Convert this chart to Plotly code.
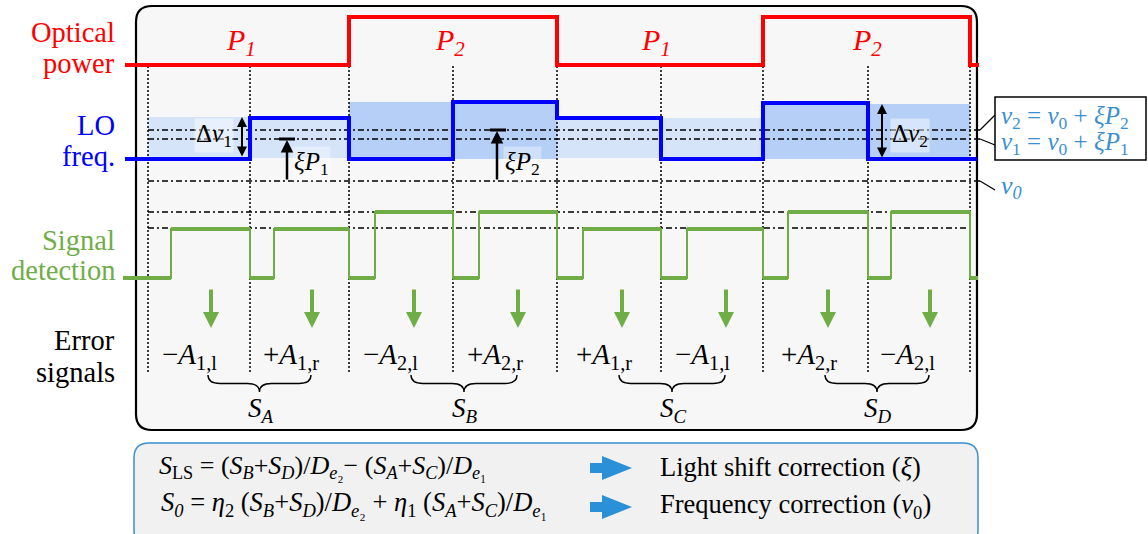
import plotly.graph_objects as go

# --- data (horizontal = time in px, vertical = level in px, top-down) ---
edges = [148, 250, 349, 453, 557, 661, 763, 868, 970]

power_t = [125, 349, 557, 763, 970, 979]
power_lvl = [65, 17, 65, 17, 65]
power_names = ["P<sub>1</sub>", "P<sub>2</sub>", "P<sub>1</sub>", "P<sub>2</sub>"]
power_name_x = [241, 450, 656, 867]

lo_t = [125, 250, 349, 453, 557, 661, 763, 868, 977]
lo_lvl = [159, 118, 159, 102, 118, 159, 103, 159]

band_t0 = [148, 349, 557, 763]
band_t1 = [349, 557, 763, 970]
band_top = [117, 102, 118, 104]
band_bot = [158, 159, 158, 159]
band_kind = ["P1", "P2", "P1", "P2"]

nu_levels = [130, 139, 181]      # nu2, nu1, nu0
sig_levels = [212, 228]

sig_t = [123, 171, 250, 274, 349, 375, 453, 479, 557, 583, 661, 687,
         763, 788, 868, 891, 970, 978]
sig_lvl = [278, 229, 278, 229, 278, 212, 278, 212, 278, 229, 278, 229,
           278, 212, 278, 212, 278]

sample_t = [211, 312, 414, 518, 622, 726, 828, 930]
err_x = [189, 291, 390, 495, 604, 702, 809, 907]
err_labels = ["−<i>A</i><sub>1,l</sub>", "+<i>A</i><sub>1,r</sub>",
              "−<i>A</i><sub>2,l</sub>", "+<i>A</i><sub>2,r</sub>",
              "+<i>A</i><sub>1,r</sub>", "−<i>A</i><sub>1,l</sub>",
              "+<i>A</i><sub>2,r</sub>", "−<i>A</i><sub>2,l</sub>"]
sum_names = ["A", "B", "C", "D"]

RED = "#ff0000"
BLUE = "#0000ff"
GREEN = "#70ad47"
SKY = "#3a8fd0"
SERIF = "Liberation Serif"


def step(ts, lv):
    xs, ys = [], []
    for i, v in enumerate(lv):
        xs += [ts[i], ts[i + 1]]
        ys += [v, v]
    return xs, ys


def rounded(x0, y0, x1, y1, r):
    return (f"M{x0+r},{y0} L{x1-r},{y0} Q{x1},{y0} {x1},{y0+r} "
            f"L{x1},{y1-r} Q{x1},{y1} {x1-r},{y1} L{x0+r},{y1} "
            f"Q{x0},{y1} {x0},{y1-r} L{x0},{y0+r} Q{x0},{y0} {x0+r},{y0} Z")


def brace(x0, x1, y0, h):
    xm = (x0 + x1) / 2
    ym = y0 + h * 0.5
    return (f"M{x0},{y0} Q{x0},{ym} {x0+12},{ym} L{xm-12},{ym} "
            f"Q{xm},{ym} {xm},{y0+h} Q{xm},{ym} {xm+12},{ym} "
            f"L{x1-12},{ym} Q{x1},{ym} {x1},{y0}")


def block_arrow(cx, cy):
    return (f"M{cx-21},{cy-5} L{cx-9},{cy-5} L{cx-9},{cy-12} L{cx+21},{cy} "
            f"L{cx-9},{cy+12} L{cx-9},{cy+5} L{cx-21},{cy+5} Z")


fig = go.Figure()

# shaded LO bands
for a, b, top, bot, kind in zip(band_t0, band_t1, band_top, band_bot, band_kind):
    fig.add_trace(go.Scatter(
        x=[a, b, b, a, a], y=[top, top, bot, bot, top], mode="lines",
        fill="toself", fillcolor="#d5e4f9" if kind == "P1" else "#b5cff6",
        line=dict(width=0), hoverinfo="skip"))

# dash-dot reference levels
hx, hy = [], []
for lv in nu_levels:
    hx += [148, 980, None]
    hy += [lv, lv, None]
for lv in sig_levels:
    hx += [148, 970, None]
    hy += [lv, lv, None]
fig.add_trace(go.Scatter(x=hx, y=hy, mode="lines", hoverinfo="skip",
                         line=dict(color="black", width=1.3, dash="6px,3px,2px,3px")))

# dotted time marks
vx, vy = [], []
for t in edges:
    vx += [t, t, None]
    vy += [66, 373, None]
fig.add_trace(go.Scatter(x=vx, y=vy, mode="lines", hoverinfo="skip",
                         line=dict(color="black", width=1.5, dash="2px,2px")))

# optical power
px_, py_ = step(power_t, power_lvl)
fig.add_trace(go.Scatter(x=px_, y=py_, mode="lines", line=dict(color=RED, width=4)))

# LO frequency
lx, ly = step(lo_t, lo_lvl)
fig.add_trace(go.Scatter(x=lx, y=ly, mode="lines", line=dict(color=BLUE, width=4)))

# signal detection
sx, sy = step(sig_t, sig_lvl)
fig.add_trace(go.Scatter(x=sx, y=sy, mode="lines", line=dict(color=GREEN, width=2)))
gx, gy = [], []
for i, v in enumerate(sig_lvl):
    gx += [sig_t[i], sig_t[i + 1], None]
    gy += [v, v, None]
fig.add_trace(go.Scatter(x=gx, y=gy, mode="lines", line=dict(color=GREEN, width=4)))

shapes = [
    dict(type="path", path=rounded(136, 6, 977, 430, 16), layer="below",
         fillcolor="#f7f7f7", line=dict(color="black", width=2.2)),
    dict(type="path", path=rounded(134, 443, 978, 545, 15), layer="below",
         fillcolor="#f1f1f1", line=dict(color=SKY, width=1.5)),
    dict(type="rect", x0=995, x1=1146, y0=97, y1=160, fillcolor="white",
         line=dict(color="black", width=1.5)),
]
# leaders to level labels
for lv, ty in zip(nu_levels, [115, 145, 190]):
    shapes.append(dict(type="line", x0=980, y0=lv, x1=995, y1=ty,
                       line=dict(color="black", width=1.2)))
# xi P bars
shapes.append(dict(type="line", x0=279, x1=295, y0=nu_levels[1], y1=nu_levels[1],
                   line=dict(color="black", width=3)))
shapes.append(dict(type="line", x0=490, x1=506, y0=nu_levels[0], y1=nu_levels[0],
                   line=dict(color="black", width=3)))
# braces
for i in range(4):
    shapes.append(dict(type="path", path=brace(sample_t[2 * i] - 3, sample_t[2 * i + 1] - 1, 375, 17),
                       line=dict(color="black", width=1.4)))
# block arrows
for cy in [468, 507]:
    shapes.append(dict(type="path", path=block_arrow(611, cy), fillcolor="#2a90d8",
                       line=dict(width=0)))

ann = []


def txt(x, y, text, size=26, color="black", xanchor="center", **kw):
    ann.append(dict(x=x, y=y, text=text, showarrow=False, xanchor=xanchor,
                    yanchor="middle", font=dict(family=SERIF, size=size, color=color), **kw))


# row titles
for label, y, col in [("Optical", 32, RED), ("power", 63, RED),
                      ("LO", 125, BLUE), ("freq.", 156, BLUE),
                      ("Signal", 240, GREEN), ("detection", 270, GREEN),
                      ("Error", 340, "black"), ("signals", 372, "black")]:
    txt(117, y, label, size=28.5, color=col, xanchor="right")

for x, name in zip(power_name_x, power_names):
    txt(x, 42, f"<i>{name}</i>", size=30, color=RED)

# LO annotations
txt(214, 135, "Δ<i>ν</i><sub>1</sub>", size=25, bgcolor="rgba(255,255,255,0.45)")
txt(910, 135, "Δ<i>ν</i><sub>2</sub>", size=25, bgcolor="rgba(255,255,255,0.45)")
txt(311, 163, "<i>ξP</i><sub>1</sub>", size=25, bgcolor="rgba(255,255,255,0.35)")
txt(522, 163, "<i>ξP</i><sub>2</sub>", size=25, bgcolor="rgba(255,255,255,0.35)")

for x, top, bot in [(242, band_top[0], band_bot[0]), (882, band_top[3], band_bot[3])]:
    ann.append(dict(x=x, y=top, ax=x, ay=bot, axref="x", ayref="y", xref="x", yref="y",
                    text="", showarrow=True, arrowhead=2, arrowside="end+start",
                    arrowsize=1, arrowwidth=2, arrowcolor="black"))
for x, top in [(287, nu_levels[1]), (497, nu_levels[0])]:
    ann.append(dict(x=x, y=top + 1, ax=x, ay=nu_levels[2], axref="x", ayref="y",
                    text="", showarrow=True, arrowhead=2, arrowsize=1,
                    arrowwidth=2.5, arrowcolor="black"))

# level labels
txt(999, 117, "<i>ν</i><sub>2</sub> = <i>ν</i><sub>0</sub> + <i>ξP</i><sub>2</sub>",
    size=25, color=SKY, xanchor="left")
txt(999, 143, "<i>ν</i><sub>1</sub> = <i>ν</i><sub>0</sub> + <i>ξP</i><sub>1</sub>",
    size=25, color=SKY, xanchor="left")
txt(999, 187, "<i>ν<sub>0</sub></i>", size=26, color=SKY, xanchor="left")

# sampling arrows
for t in sample_t:
    ann.append(dict(x=t, y=328, ax=t, ay=288, axref="x", ayref="y", text="",
                    showarrow=True, arrowhead=2, arrowsize=0.8, arrowwidth=4,
                    arrowcolor=GREEN))

for x, lab in zip(err_x, err_labels):
    txt(x, 356, lab, size=29)
for i, s in enumerate(sum_names):
    txt((sample_t[2 * i] + sample_t[2 * i + 1]) / 2 - 1, 410, f"<i>S<sub>{s}</sub></i>", size=27)

# bottom box formulas
txt(157, 467, "<i>S</i><sub>LS</sub> = (<i>S<sub>B</sub></i>+<i>S<sub>D</sub></i>)/<i>D</i>"
    "<sub><i>e</i>₂</sub>− (<i>S<sub>A</sub></i>+<i>S<sub>C</sub></i>)/<i>D</i><sub><i>e</i>₁</sub>",
    size=26, xanchor="left")
txt(159, 504, "<i>S<sub>0</sub></i> = <i>η</i><sub>2</sub> (<i>S<sub>B</sub></i>+<i>S<sub>D</sub></i>)/"
    "<i>D</i><sub><i>e</i>₂</sub> + <i>η</i><sub>1</sub> (<i>S<sub>A</sub></i>+<i>S<sub>C</sub></i>)/"
    "<i>D</i><sub><i>e</i>₁</sub>", size=26.5, xanchor="left")
txt(658, 467, "Light shift correction (<i>ξ</i>)", size=26.5, xanchor="left")
txt(658, 506, "Frequency correction (<i>ν</i><sub>0</sub>)", size=26.5, xanchor="left")

fig.update_layout(
    width=1148, height=534, margin=dict(l=0, r=0, t=0, b=0),
    paper_bgcolor="white", plot_bgcolor="white", showlegend=False,
    xaxis=dict(range=[0, 1148], visible=False, fixedrange=True),
    yaxis=dict(range=[534, 0], visible=False, fixedrange=True),
    shapes=shapes, annotations=ann,
)

fig.write_html("out.html", config={"displayModeBar": False},
               post_script="document.body.style.margin='0';")
